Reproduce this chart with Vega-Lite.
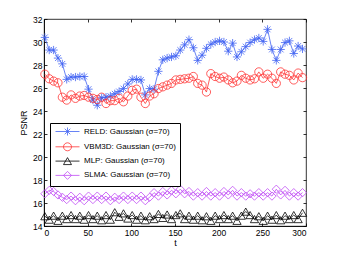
{
  "$schema": "https://vega.github.io/schema/vega-lite/v6.json",
  "width": 262,
  "height": 207,
  "autosize": {"type": "none"},
  "padding": {"left": 44, "top": 19, "right": 32, "bottom": 28},
  "data": {"values": [
    {"t":1,"RELD":30.4,"VBM3D":27.2,"MLP":14.85,"SLMA":16.8},
    {"t":6,"RELD":29.3,"VBM3D":26.8,"MLP":14.55,"SLMA":17.1},
    {"t":11,"RELD":29.3,"VBM3D":26.6,"MLP":14.9,"SLMA":17.0},
    {"t":16,"RELD":28.6,"VBM3D":26.45,"MLP":14.45,"SLMA":16.7},
    {"t":21,"RELD":28.1,"VBM3D":25.2,"MLP":14.9,"SLMA":16.5},
    {"t":26,"RELD":26.75,"VBM3D":24.95,"MLP":14.6,"SLMA":16.3},
    {"t":31,"RELD":26.95,"VBM3D":25.4,"MLP":14.95,"SLMA":16.6},
    {"t":36,"RELD":26.95,"VBM3D":25.1,"MLP":14.6,"SLMA":16.2},
    {"t":41,"RELD":27.0,"VBM3D":25.3,"MLP":14.9,"SLMA":16.5},
    {"t":46,"RELD":27.0,"VBM3D":25.35,"MLP":14.55,"SLMA":16.2},
    {"t":51,"RELD":25.9,"VBM3D":25.2,"MLP":14.95,"SLMA":16.6},
    {"t":56,"RELD":24.95,"VBM3D":25.1,"MLP":14.6,"SLMA":16.3},
    {"t":61,"RELD":24.5,"VBM3D":25.0,"MLP":14.9,"SLMA":16.6},
    {"t":66,"RELD":25.15,"VBM3D":25.2,"MLP":14.5,"SLMA":16.3},
    {"t":71,"RELD":25.2,"VBM3D":24.65,"MLP":14.95,"SLMA":16.6},
    {"t":76,"RELD":25.3,"VBM3D":24.9,"MLP":14.55,"SLMA":16.2},
    {"t":81,"RELD":25.5,"VBM3D":24.9,"MLP":15.2,"SLMA":16.5},
    {"t":86,"RELD":25.7,"VBM3D":25.1,"MLP":14.8,"SLMA":16.3},
    {"t":91,"RELD":25.95,"VBM3D":24.8,"MLP":15.1,"SLMA":16.6},
    {"t":96,"RELD":26.35,"VBM3D":25.3,"MLP":14.65,"SLMA":16.3},
    {"t":101,"RELD":26.75,"VBM3D":25.8,"MLP":14.95,"SLMA":16.6},
    {"t":106,"RELD":26.75,"VBM3D":25.9,"MLP":14.55,"SLMA":16.3},
    {"t":111,"RELD":26.7,"VBM3D":25.2,"MLP":14.9,"SLMA":16.6},
    {"t":116,"RELD":25.4,"VBM3D":24.65,"MLP":14.5,"SLMA":16.2},
    {"t":121,"RELD":25.95,"VBM3D":25.3,"MLP":14.85,"SLMA":16.5},
    {"t":126,"RELD":25.9,"VBM3D":25.5,"MLP":14.6,"SLMA":16.9},
    {"t":131,"RELD":27.45,"VBM3D":25.95,"MLP":15.05,"SLMA":16.6},
    {"t":136,"RELD":28.45,"VBM3D":26.1,"MLP":14.7,"SLMA":17.0},
    {"t":141,"RELD":28.6,"VBM3D":26.25,"MLP":15.0,"SLMA":16.7},
    {"t":146,"RELD":28.7,"VBM3D":26.4,"MLP":14.6,"SLMA":17.1},
    {"t":151,"RELD":28.8,"VBM3D":26.7,"MLP":14.95,"SLMA":16.8},
    {"t":156,"RELD":29.3,"VBM3D":26.75,"MLP":15.1,"SLMA":17.2},
    {"t":161,"RELD":29.75,"VBM3D":26.8,"MLP":14.6,"SLMA":16.8},
    {"t":166,"RELD":30.2,"VBM3D":26.85,"MLP":14.9,"SLMA":17.0},
    {"t":171,"RELD":29.5,"VBM3D":27.0,"MLP":14.55,"SLMA":16.6},
    {"t":176,"RELD":28.4,"VBM3D":26.4,"MLP":14.9,"SLMA":16.9},
    {"t":181,"RELD":28.85,"VBM3D":26.25,"MLP":14.5,"SLMA":16.6},
    {"t":186,"RELD":29.45,"VBM3D":25.65,"MLP":14.85,"SLMA":17.0},
    {"t":191,"RELD":29.8,"VBM3D":27.25,"MLP":14.45,"SLMA":16.6},
    {"t":196,"RELD":30.0,"VBM3D":27.0,"MLP":14.9,"SLMA":16.9},
    {"t":201,"RELD":30.1,"VBM3D":26.85,"MLP":14.6,"SLMA":16.6},
    {"t":206,"RELD":30.0,"VBM3D":26.95,"MLP":14.95,"SLMA":17.0},
    {"t":211,"RELD":29.2,"VBM3D":26.7,"MLP":14.6,"SLMA":16.7},
    {"t":216,"RELD":29.9,"VBM3D":26.45,"MLP":14.9,"SLMA":17.1},
    {"t":221,"RELD":28.7,"VBM3D":26.6,"MLP":14.45,"SLMA":16.6},
    {"t":226,"RELD":29.15,"VBM3D":27.1,"MLP":14.9,"SLMA":16.9},
    {"t":231,"RELD":29.6,"VBM3D":26.85,"MLP":15.25,"SLMA":16.6},
    {"t":236,"RELD":29.95,"VBM3D":26.7,"MLP":14.95,"SLMA":16.8},
    {"t":241,"RELD":30.2,"VBM3D":26.8,"MLP":14.6,"SLMA":16.6},
    {"t":246,"RELD":30.35,"VBM3D":27.4,"MLP":14.85,"SLMA":16.9},
    {"t":251,"RELD":30.05,"VBM3D":26.85,"MLP":14.45,"SLMA":16.6},
    {"t":256,"RELD":31.1,"VBM3D":27.2,"MLP":14.9,"SLMA":16.9},
    {"t":261,"RELD":29.35,"VBM3D":26.85,"MLP":14.55,"SLMA":16.6},
    {"t":266,"RELD":28.4,"VBM3D":26.4,"MLP":14.95,"SLMA":17.2},
    {"t":271,"RELD":29.35,"VBM3D":27.4,"MLP":14.5,"SLMA":16.7},
    {"t":276,"RELD":29.95,"VBM3D":27.2,"MLP":14.9,"SLMA":17.1},
    {"t":281,"RELD":30.1,"VBM3D":27.1,"MLP":14.6,"SLMA":16.6},
    {"t":286,"RELD":29.0,"VBM3D":26.7,"MLP":14.95,"SLMA":16.9},
    {"t":291,"RELD":29.65,"VBM3D":27.3,"MLP":14.6,"SLMA":16.6},
    {"t":296,"RELD":29.4,"VBM3D":26.9,"MLP":15.15,"SLMA":16.9}
  ]},
  "transform": [{"fold": ["RELD", "VBM3D", "MLP", "SLMA"], "as": ["s", "v"]}],
  "layer": [
    {
      "mark": {"type": "line", "strokeWidth": 0.8},
      "encoding": {
        "x": {"field": "t", "type": "quantitative", "scale": {"domain": [0, 300], "nice": false},
              "axis": {"orient": "bottom", "values": [0, 50, 100, 150, 200, 250, 300], "title": "t", "labelPadding": 5, "titlePadding": 2}},
        "y": {"field": "v", "type": "quantitative", "scale": {"domain": [14, 32], "nice": false, "zero": false},
              "axis": {"orient": "left", "values": [14, 16, 18, 20, 22, 24, 26, 28, 30, 32], "title": "PSNR", "labelPadding": 5, "titlePadding": 4}},
        "color": {"field": "s", "type": "nominal", "legend": null,
                  "scale": {"domain": ["RELD", "VBM3D", "MLP", "SLMA"], "range": ["#4163f2", "#ff3333", "#000000", "#c04cf5"]}},
        "detail": {"field": "s"}
      }
    },
    {
      "mark": {"type": "point", "filled": false, "size": 68, "strokeWidth": 0.8, "opacity": 1},
      "encoding": {
        "x": {"field": "t", "type": "quantitative", "axis": null},
        "y": {"field": "v", "type": "quantitative", "axis": null},
        "color": {"field": "s", "type": "nominal", "legend": null,
                  "scale": {"domain": ["RELD", "VBM3D", "MLP", "SLMA"], "range": ["#4163f2", "#ff3333", "#000000", "#c04cf5"]}},
        "shape": {"field": "s", "type": "nominal", "legend": null,
                  "scale": {"domain": ["RELD", "VBM3D", "MLP", "SLMA"],
                            "range": ["M-1,0L1,0M0,-1L0,1M-0.7,-0.7L0.7,0.7M-0.7,0.7L0.7,-0.7", "circle", "M0,-0.87L1,0.87L-1,0.87Z", "diamond"]}}
      }
    },
    {
      "mark": {"type": "point", "filled": false, "size": 68, "strokeWidth": 0.8, "opacity": 0},
      "encoding": {
        "x": {"field": "t", "type": "quantitative",
              "axis": {"orient": "top", "values": [0, 50, 100, 150, 200, 250, 300], "labels": false, "title": null, "domain": false}},
        "y": {"field": "v", "type": "quantitative",
              "axis": {"orient": "right", "values": [14, 16, 18, 20, 22, 24, 26, 28, 30, 32], "labels": false, "title": null, "domain": false}},
        "color": {"field": "s", "type": "nominal",
                  "scale": {"domain": ["RELD", "VBM3D", "MLP", "SLMA"], "range": ["#4163f2", "#ff3333", "#000000", "#c04cf5"]},
                  "legend": {"orient": "none", "legendX": 6, "legendY": 104, "title": null, "padding": 4,
                             "strokeColor": "#000000", "fillColor": "#ffffff", "symbolSize": 64, "symbolStrokeWidth": 0.8,
                             "symbolOffset": 9, "labelOffset": 12, "rowPadding": 2.3,
                             "labelFont": "Liberation Sans", "labelFontSize": 8, "labelColor": "#000000",
                             "labelExpr": "datum.label + ': Gaussian (σ=70)'"}},
        "shape": {"field": "s", "type": "nominal",
                  "scale": {"domain": ["RELD", "VBM3D", "MLP", "SLMA"],
                            "range": ["M-3,0L3,0M0,-1L0,1M-0.7,-0.7L0.7,0.7M-0.7,0.7L0.7,-0.7",
                                      "M-3,0L3,0M1,0A1,1,0,1,1,-1,0A1,1,0,1,1,1,0Z",
                                      "M-3,0L3,0M0,-0.87L1,0.87L-1,0.87Z",
                                      "M-3,0L3,0M-1,0L0,-1L1,0L0,1Z"]},
                  "legend": {"orient": "none", "legendX": 6, "legendY": 104, "title": null, "padding": 4,
                             "strokeColor": "#000000", "fillColor": "#ffffff", "symbolSize": 64, "symbolStrokeWidth": 0.8,
                             "symbolOffset": 9, "labelOffset": 12, "rowPadding": 2.3,
                             "labelFont": "Liberation Sans", "labelFontSize": 8, "labelColor": "#000000",
                             "labelExpr": "datum.label + ': Gaussian (σ=70)'"}}
      }
    }
  ],
  "resolve": {"scale": {"color": "independent", "shape": "independent"}, "axis": {"x": "independent", "y": "independent"}},
  "config": {
    "view": {"stroke": "#000000", "strokeWidth": 0.8},
    "axis": {"grid": false, "domainColor": "#000000", "domainWidth": 0.8, "tickColor": "#000000", "tickWidth": 0.8, "tickSize": -3,
             "labelColor": "#000000", "labelFont": "Liberation Sans", "labelFontSize": 8.5,
             "titleFont": "Liberation Sans", "titleFontSize": 9, "titleFontWeight": "normal", "titleColor": "#000000"}
  }
}
